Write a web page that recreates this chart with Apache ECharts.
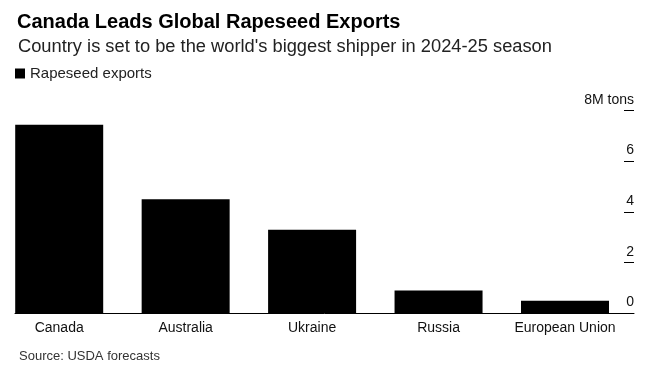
<!DOCTYPE html>
<html><head><meta charset="utf-8">
<script src="https://cdn.jsdelivr.net/npm/echarts@6/dist/echarts.min.js"></script>
<style>html,body{margin:0;padding:0;background:#fff}#c{width:660px;height:365px}</style>
</head><body><div id="c"></div>
<script>
const categories = ['Canada', 'Australia', 'Ukraine', 'Russia', 'European Union'];
const exportsMt = [7.45, 4.5, 3.3, 0.9, 0.5];
const yTicks = [0, 2, 4, 6, 8];

const FONT = '"Liberation Sans", Arial, Helvetica, sans-serif';
const chart = echarts.init(document.getElementById('c'), null, {renderer: 'canvas'});
chart.setOption({
  animation: false,
  backgroundColor: '#fff',
  title: [
    {text: 'Canada Leads Global Rapeseed Exports', left: 12, top: 7,
     textStyle: {fontFamily: FONT, fontSize: 20, fontWeight: 'bold', color: '#000'}},
    {text: "Country is set to be the world's biggest shipper in 2024-25 season", left: 13, top: 33,
     textStyle: {fontFamily: FONT, fontSize: 18.3, fontWeight: 'normal', color: '#222'}},
    {text: 'Source: USDA forecasts', left: 14, top: 345,
     textStyle: {fontFamily: FONT, fontSize: 13, fontWeight: 'normal', color: '#333'}}
  ],
  legend: {
    data: ['Rapeseed exports'], left: 10, top: 61, icon: 'rect', itemWidth: 10, itemHeight: 10, itemGap: 6,
    textStyle: {fontFamily: FONT, fontSize: 15, color: '#222'}
  },
  grid: [
    {left: 59.2, right: 95, top: 110.7, bottom: 51.7},
    {left: 15, right: 26, top: 110.7, bottom: 51.7}
  ],
  xAxis: [
    {type: 'category', gridIndex: 0, data: categories, boundaryGap: false,
     axisLine: {show: false}, axisTick: {show: false},
     axisLabel: {fontFamily: FONT, fontSize: 14, color: '#111', margin: 8, interval: 0}},
    {type: 'value', gridIndex: 1, min: 0, max: 1, show: true,
     axisLine: {show: true, onZero: false, lineStyle: {color: '#000', width: 1}},
     axisTick: {show: false}, axisLabel: {show: false}, splitLine: {show: false}}
  ],
  yAxis: [
    {type: 'value', gridIndex: 0, min: 0, max: 8, show: false, splitLine: {show: false}},
    {type: 'value', gridIndex: 1, position: 'right', min: 0, max: 8, interval: 2,
     axisLine: {show: false, onZero: false},
     axisTick: {show: true, inside: true, length: 10, lineStyle: {color: '#000', width: 1}},
     splitLine: {show: false},
     axisLabel: {inside: true, margin: 0, verticalAlign: 'bottom', padding: [0, 0, 4, 0],
       fontFamily: FONT, fontSize: 14, color: '#111',
       formatter: v => (yTicks.indexOf(v) === yTicks.length - 1 ? v + 'M tons' : String(v))}}
  ],
  series: [{
    name: 'Rapeseed exports', type: 'bar', xAxisIndex: 0, yAxisIndex: 0,
    data: exportsMt, barWidth: 88, itemStyle: {color: '#000'}
  }]
});
</script></body></html>
